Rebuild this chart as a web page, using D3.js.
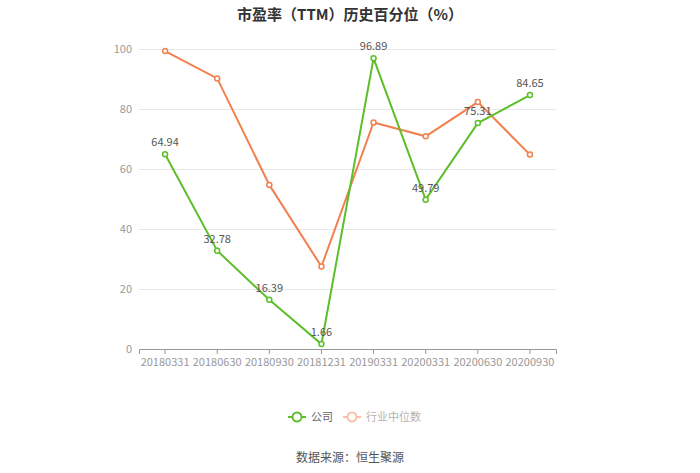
<!DOCTYPE html>
<html>
<head>
<meta charset="utf-8">
<script src="https://cdn.jsdelivr.net/npm/d3@7"></script>
<style>
  body { margin: 0; background: #fff; }
  svg text { font-family: "Microsoft YaHei", "Noto Sans CJK SC", sans-serif; }
</style>
</head>
<body>
<svg id="chart" width="700" height="473"></svg>
<script>
// data
const dates = ["20180331", "20180630", "20180930", "20181231", "20190331", "20200331", "20200630", "20200930"];
const company = [64.94, 32.78, 16.39, 1.66, 96.89, 49.79, 75.31, 84.65];
const industry = [99.3, 90.2, 54.7, 27.5, 75.5, 70.9, 82.3, 64.8];
const yTicks = [0, 20, 40, 60, 80, 100];

const green = "#5cbf2a";
const orange = "#f2804f";

const svg = d3.select("#chart");
const margin = { top: 49, right: 144, bottom: 123, left: 139 };
const width = 700 - margin.left - margin.right;
const height = 473 - margin.top - margin.bottom - 1;

// title
svg.append("text")
  .attr("x", 350).attr("y", 20)
  .attr("text-anchor", "middle")
  .style("font-size", "15px")
  .style("font-weight", "bold")
  .style("fill", "#333")
  .text("市盈率（TTM）历史百分位（%）");

const g = svg.append("g").attr("transform", "translate(" + margin.left + "," + margin.top + ")");

var x = d3.scaleBand().domain(dates).range([0, width]);
var y = d3.scaleLinear().domain([0, 100]).range([height, 0]);
const cx = d => x(d) + x.bandwidth() / 2;

// grid
g.append("g")
  .call(d3.axisLeft(y).tickValues(yTicks).tickSize(-width).tickFormat(""))
  .call(s => s.select(".domain").remove())
  .call(s => s.selectAll("line").attr("stroke", "#e8e8e8"));

// y labels
g.append("g")
  .call(d3.axisLeft(y).tickValues(yTicks).tickSize(0).tickPadding(7))
  .call(s => s.select(".domain").remove())
  .call(s => s.selectAll("text").style("font-size", "11px").style("fill", "#999"));

// x axis
const xa = g.append("g")
  .attr("transform", "translate(0," + height + ")")
  .call(d3.axisBottom(x).tickSize(5).tickPadding(4));
xa.select(".domain").attr("stroke", "#999");
xa.selectAll("line").attr("stroke", "#999");
xa.selectAll("text").style("font-size", "11px").style("fill", "#999");

function drawSeries(vals, color, labels) {
  g.append("path")
    .datum(vals)
    .attr("d", d3.line().x((d, i) => cx(dates[i])).y(d => y(d)))
    .attr("stroke", color)
    .attr("stroke-width", 2)
    .attr("fill", "none");
  g.selectAll(null)
    .data(vals).enter()
    .append("circle")
    .attr("cx", (d, i) => cx(dates[i]))
    .attr("cy", d => y(d))
    .attr("r", 2.5)
    .attr("fill", "#fff")
    .attr("stroke", color)
    .attr("stroke-width", 1.5);
  if (labels) {
    g.selectAll(null)
      .data(vals).enter()
      .append("text")
      .attr("x", (d, i) => cx(dates[i]))
      .attr("y", d => y(d) - 8)
      .attr("text-anchor", "middle")
      .style("font-size", "11px")
      .style("fill", "#555")
      .text(d => d.toFixed(2));
  }
}
drawSeries(industry, orange, false);
drawSeries(company, green, true);

// legend
const legend = [
  { name: "公司", color: green, x: 288, op: 1 },
  { name: "行业中位数", color: orange, x: 343, op: 0.5 }
];
legend.forEach(l => {
  const lg = svg.append("g").attr("opacity", l.op);
  lg.append("line").attr("x1", l.x).attr("x2", l.x + 18).attr("y1", 417).attr("y2", 417)
    .attr("stroke", l.color).attr("stroke-width", 2);
  lg.append("circle").attr("cx", l.x + 9).attr("cy", 417).attr("r", 4.5)
    .attr("fill", "#fff").attr("stroke", l.color).attr("stroke-width", 2);
  lg.append("text").attr("x", l.x + 23).attr("y", 421)
    .style("font-size", "11px").style("fill", "#666").text(l.name);
});

// source
svg.append("text")
  .attr("x", 350).attr("y", 462)
  .attr("text-anchor", "middle")
  .style("font-size", "12px")
  .style("fill", "#555")
  .text("数据来源：恒生聚源");
</script>
</body>
</html>
